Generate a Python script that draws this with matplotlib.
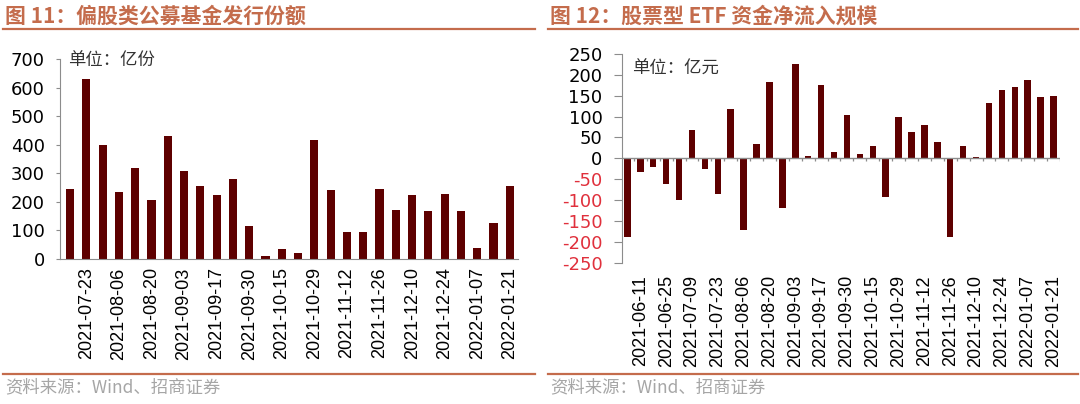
import numpy as np
import matplotlib.pyplot as plt
from matplotlib.lines import Line2D

plt.rcParams['axes.unicode_minus'] = False

# 图11 偏股类公募基金发行份额（亿份）
weeks_fund = ['2021-07-16', '2021-07-23', '2021-07-30', '2021-08-06', '2021-08-13',
              '2021-08-20', '2021-08-27', '2021-09-03', '2021-09-10', '2021-09-17',
              '2021-09-24', '2021-09-30', '2021-10-08', '2021-10-15', '2021-10-22',
              '2021-10-29', '2021-11-05', '2021-11-12', '2021-11-19', '2021-11-26',
              '2021-12-03', '2021-12-10', '2021-12-17', '2021-12-24', '2021-12-31',
              '2022-01-07', '2022-01-14', '2022-01-21']
fund_shares = [245, 629, 399, 234, 318, 205, 429, 309, 257, 225, 280, 114, 9, 36,
               20, 418, 241, 93, 93, 245, 170, 225, 167, 229, 167, 37, 127, 254]

# 图12 股票型ETF资金净流入规模（亿元）
weeks_etf = ['2021-06-04', '2021-06-11', '2021-06-18', '2021-06-25', '2021-07-02',
             '2021-07-09', '2021-07-16', '2021-07-23', '2021-07-30', '2021-08-06',
             '2021-08-13', '2021-08-20', '2021-08-27', '2021-09-03', '2021-09-10',
             '2021-09-17', '2021-09-24', '2021-09-30', '2021-10-08', '2021-10-15',
             '2021-10-22', '2021-10-29', '2021-11-05', '2021-11-12', '2021-11-19',
             '2021-11-26', '2021-12-03', '2021-12-10', '2021-12-17', '2021-12-24',
             '2021-12-31', '2022-01-07', '2022-01-14', '2022-01-21']
etf_flow = [-189, -34, -21, -61, -101, 67, -26, -86, 118, -171, 35, 184, -119, 227,
            6, 176, 16, 104, 10, 30, -93, 99, 63, 79, 39, -188, 30, 2, 132, 163,
            170, 188, 146, 149]

bar_color = '#5e0000'
title_color = '#c46c4c'
axis_color = '#8c8c8c'
neg_color = '#e0303c'
cjk = ['Noto Sans CJK SC', 'DejaVu Sans']
num_font = 'DejaVu Sans'
lab_font = 'Liberation Sans'

W, H = 1080.0, 404.0
fig = plt.figure(figsize=(10.8, 4.04), dpi=100)


def box(x0, y0, x1, y1):
    # pixel box (top-left origin) -> figure fraction
    return [x0 / W, 1 - y1 / H, (x1 - x0) / W, (y1 - y0) / H]


def decor(x0, x1, title):
    fig.text((x0 + 2) / W, 1 - 16 / H, title, family=cjk, fontsize=15,
             fontweight='bold', color=title_color, va='center', ha='left')
    fig.add_artist(Line2D([x0 / W, x1 / W], [1 - 29 / H] * 2, color=title_color, lw=1.6))
    fig.add_artist(Line2D([x0 / W, x1 / W], [1 - 374 / H] * 2, color=title_color, lw=1.6))
    fig.text((x0 + 2) / W, 1 - 387 / H, '资料来源：Wind、招商证券', family=cjk,
             fontsize=12.5, color='#a6a6a6', va='center', ha='left')


# ---- 左图
ax1 = fig.add_axes(box(60, 59, 518, 259))
x1 = np.arange(len(fund_shares))
ax1.bar(x1, fund_shares, width=0.5, color=bar_color)
ax1.set_xlim(-0.62, len(fund_shares) - 0.5)
ax1.set_ylim(0, 700)
ax1.set_yticks(np.arange(0, 701, 100))
ax1.set_xticks(x1[1::2])
ax1.set_xticklabels(weeks_fund[1::2], rotation=90, family=lab_font, fontsize=13)
ax1.tick_params(axis='x', length=0, pad=6)
ax1.tick_params(axis='y', length=3, color=axis_color, pad=8, labelsize=13)
for t in ax1.get_yticklabels():
    t.set_family(num_font)
for s in ['top', 'right']:
    ax1.spines[s].set_visible(False)
for s in ['left', 'bottom']:
    ax1.spines[s].set_color(axis_color)
ax1.text(0.018, 0.995, '单位：亿份', transform=ax1.transAxes, family=cjk,
         fontsize=12.5, color='#333333', va='center', ha='left')
decor(3, 535, '图 11：偏股类公募基金发行份额')

# ---- 右图
ax2 = fig.add_axes(box(622, 54, 1060, 262.5))
x2 = np.arange(len(etf_flow))
ax2.bar(x2, etf_flow, width=0.5, color=bar_color)
ax2.set_xlim(-0.42, len(etf_flow) - 0.5)
ax2.set_ylim(-250, 250)
ax2.set_yticks(np.arange(-250, 251, 50))
ax2.set_xticks(x2[1::2])
ax2.set_xticklabels(weeks_etf[1::2], rotation=90, family=lab_font, fontsize=13)
ax2.tick_params(axis='x', length=0, pad=9)
ax2.tick_params(axis='y', length=6, color=axis_color, pad=8, labelsize=13)
for t, v in zip(ax2.get_yticklabels(), ax2.get_yticks()):
    t.set_family(num_font)
    if v < 0:
        t.set_color(neg_color)
for s in ['top', 'right', 'bottom']:
    ax2.spines[s].set_visible(False)
ax2.spines['left'].set_color(axis_color)
ax2.axhline(0, color=axis_color, lw=1.0)
ax2.vlines(np.arange(0.5, len(etf_flow)), -7, 0, color=axis_color, lw=0.9)
ax2.text(0.023, 0.93, '单位：亿元', transform=ax2.transAxes, family=cjk,
         fontsize=12.5, color='#333333', va='center', ha='left')
decor(548, 1078, '图 12：股票型 ETF 资金净流入规模')

fig.savefig('out.png', dpi=100)
